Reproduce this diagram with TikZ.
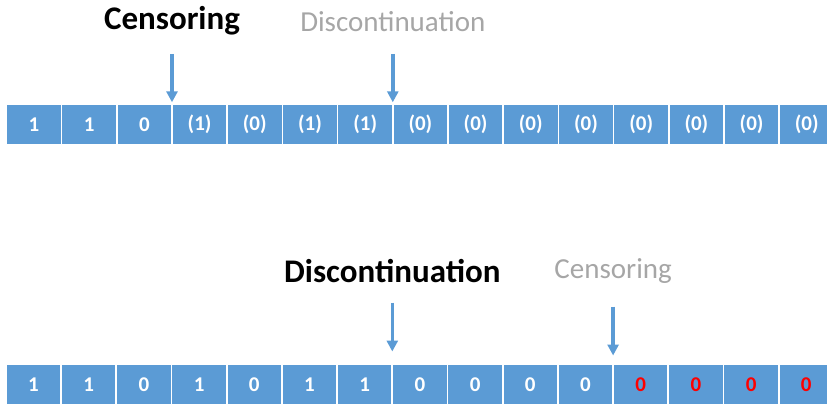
\documentclass[tikz,border=0pt]{standalone}
\usepackage{fontspec}
\setmainfont{Carlito}
\usepackage{xcolor}
\usepackage{tikz}
\usetikzlibrary{arrows.meta, positioning, calc}
\definecolor{cellblue}{HTML}{5B9BD5}
\definecolor{softgray}{HTML}{A6A6A6}
\definecolor{lostred}{HTML}{FF0000}
\tikzstyle{cell} = [rectangle, minimum width=53.5pt, minimum height=39pt, inner sep=0pt, text centered, fill=cellblue, text=white, font=\fontsize{21}{22}\selectfont\bfseries]
\tikzstyle{lost} = [cell, text=lostred]
\tikzstyle{event} = [anchor=base, inner sep=0pt, font=\fontsize{33}{36}\selectfont\bfseries]
\tikzstyle{other} = [anchor=base, inner sep=0pt, text=softgray, font=\fontsize{29}{32}\selectfont]
\tikzstyle{marker} = [draw=cellblue, line width=3.4pt, -{Triangle[width=11pt,length=11pt]}]
\begin{document}
\begin{tikzpicture}[x=1pt, y=1pt, node distance=55.2pt]
\clip (0,0) rectangle (827,405);

% first sequence: censored after the third value
\node (t1) [cell] at (34,280.5) {1};
\node (t2) [cell, right of=t1] {1};
\node (t3) [cell, right of=t2] {0};
\node (t4) [cell, right of=t3] {(1)};
\node (t5) [cell, right of=t4] {(0)};
\node (t6) [cell, right of=t5] {(1)};
\node (t7) [cell, right of=t6] {(1)};
\node (t8) [cell, right of=t7] {(0)};
\node (t9) [cell, right of=t8] {(0)};
\node (t10) [cell, right of=t9] {(0)};
\node (t11) [cell, right of=t10] {(0)};
\node (t12) [cell, right of=t11] {(0)};
\node (t13) [cell, right of=t12] {(0)};
\node (t14) [cell, right of=t13] {(0)};
\node (t15) [cell, right of=t14] {(0)};

\coordinate (tip1) at ($(t3.north east)!0.5!(t4.north west)+(0,2.5)$);
\coordinate (tail1) at ($(tip1)+(0,48.5)$);
\node (cens1) [event] at ($(tail1)+(0,24)$) {Censoring};
\draw [marker] (tail1) -- (tip1);

\coordinate (tip2) at ($(t7.north east)!0.5!(t8.north west)+(0,2.5)$);
\coordinate (tail2) at ($(tip2)+(0,48.5)$);
\node (disc1) [other] at ($(tail2)+(0,22)$) {Discontinuation};
\draw [marker] (tail2) -- (tip2);

% second sequence: discontinued, then censored
\node (b1) [cell] at (33.5,20.5) {1};
\node (b2) [cell, right of=b1] {1};
\node (b3) [cell, right of=b2] {0};
\node (b4) [cell, right of=b3] {1};
\node (b5) [cell, right of=b4] {0};
\node (b6) [cell, right of=b5] {1};
\node (b7) [cell, right of=b6] {1};
\node (b8) [cell, right of=b7] {0};
\node (b9) [cell, right of=b8] {0};
\node (b10) [cell, right of=b9] {0};
\node (b11) [cell, right of=b10] {0};
\node (b12) [lost, right of=b11] {0};
\node (b13) [lost, right of=b12] {0};
\node (b14) [lost, right of=b13] {0};
\node (b15) [lost, right of=b14] {0};

\coordinate (tip3) at ($(b7.north east)!0.5!(b8.north west)+(0,13.3)$);
\coordinate (tail3) at ($(tip3)+(0,49)$);
\node (disc2) [event] at ($(tail3)+(0,19.7)$) {Discontinuation};
\draw [marker] (tail3) -- (tip3);

\coordinate (tip4) at ($(b11.north east)!0.5!(b12.north west)+(0,9.3)$);
\coordinate (tail4) at ($(tip4)+(0,49)$);
\node (cens2) [other] at ($(tail4)+(0,27.7)$) {Censoring};
\draw [marker] (tail4) -- (tip4);

\end{tikzpicture}
\end{document}
